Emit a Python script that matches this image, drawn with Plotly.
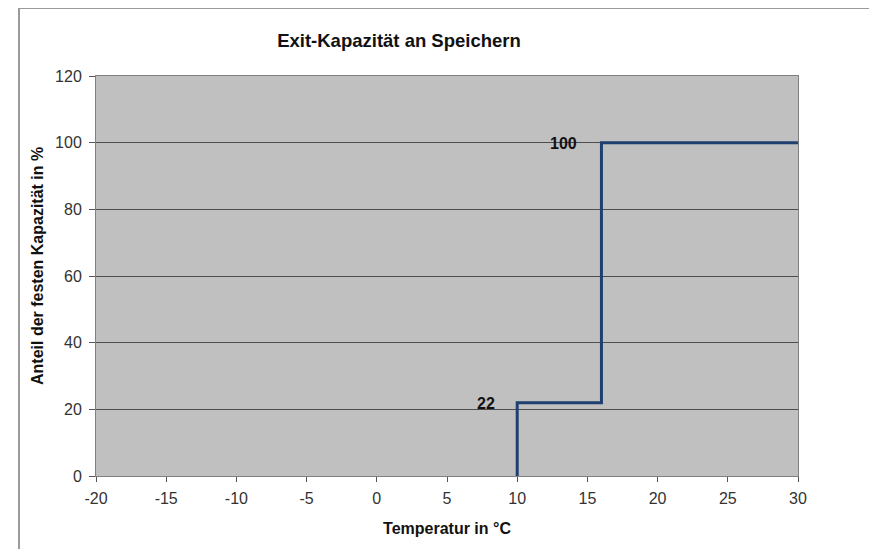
import plotly.graph_objects as go

# Data
temps = [10, 10, 16, 16, 30]
anteil = [0, 22, 22, 100, 100]
label_x = [10, 16]
label_y = [22, 100]
label_text = ["22", "100"]
x_ticks = [-20, -15, -10, -5, 0, 5, 10, 15, 20, 25, 30]
x_tick_text = ["-20", "-15", "-10", "-5", "0", "5", "10", "15", "20", "25", "30"]
y_ticks = [0, 20, 40, 60, 80, 100, 120]

# page is offset by the 8px body margin
W, H = 869, 541
L, T = 88, 68
pw, ph = 702, 400
R = W - L - pw
B = H - T - ph
OFF = 8

def px2x(px):
    return (px - OFF - L) / pw

def py2y(py):
    return (H - B - (py - OFF)) / ph

FONT = "Liberation Sans, Arial"

fig = go.Figure()
fig.add_trace(go.Scatter(
    x=temps, y=anteil, mode="lines",
    line=dict(color="#1F3F6E", width=3),
    showlegend=False, hoverinfo="skip",
))

for xv, yv, t in zip(label_x, label_y, label_text):
    fig.add_annotation(
        x=xv, y=yv, text="<b>%s</b>" % t, showarrow=False,
        xanchor="right", yanchor="middle", xshift=-20 if t == "22" else -22,
        yshift=-1,
        font=dict(family=FONT, size=16, color="#111111"),
    )

# y axis title
fig.add_annotation(
    x=px2x(37), y=py2y(266), xref="paper", yref="paper",
    text="<b>Anteil der festen Kapazität in %</b>", showarrow=False,
    textangle=-90, xanchor="center", yanchor="middle",
    font=dict(family=FONT, size=16, color="#111111"),
)

fig.update_layout(
    width=W, height=H,
    margin=dict(l=L, r=R, t=T, b=B),
    paper_bgcolor="white",
    plot_bgcolor="#C0C0C0",
    font=dict(family=FONT, size=16, color="#333333"),
    title=dict(
        text="<b>Exit-Kapazität an Speichern</b>",
        x=px2x(399), xref="paper", xanchor="center",
        y=1 - (41 - OFF) / H, yref="container", yanchor="middle",
        font=dict(size=18.5, color="#111111"),
    ),
    xaxis=dict(
        range=[-20, 30], tickvals=x_ticks, ticktext=x_tick_text,
        ticks="outside", ticklen=5, ticklabelstandoff=3,
        tickcolor="#555555", showgrid=False, zeroline=False,
        showline=True, linecolor="#808080", linewidth=1, mirror=True,
        title=dict(text="<b>Temperatur in °C</b>", standoff=16,
                   font=dict(size=16, color="#111111")),
    ),
    yaxis=dict(
        range=[0, 120], tickvals=y_ticks, ticks="outside", ticklen=6,
        ticklabelstandoff=4,
        tickcolor="#555555", showgrid=True, gridcolor="#4D4D4D", gridwidth=1,
        zeroline=False,
        showline=True, linecolor="#808080", linewidth=1, mirror=True,
    ),
    shapes=[
        dict(type="line", xref="paper", yref="paper",
             x0=px2x(19), x1=px2x(885), y0=py2y(8), y1=py2y(8),
             line=dict(color="#9A9A9A", width=2)),
        dict(type="line", xref="paper", yref="paper",
             x0=px2x(19), x1=px2x(19), y0=py2y(8), y1=py2y(560),
             line=dict(color="#9A9A9A", width=2)),
        dict(type="line", xref="paper", yref="paper",
             x0=px2x(875), x1=px2x(875), y0=py2y(8), y1=py2y(560),
             line=dict(color="#E6E6E6", width=1)),
    ],
)

fig.write_html("out.html")
